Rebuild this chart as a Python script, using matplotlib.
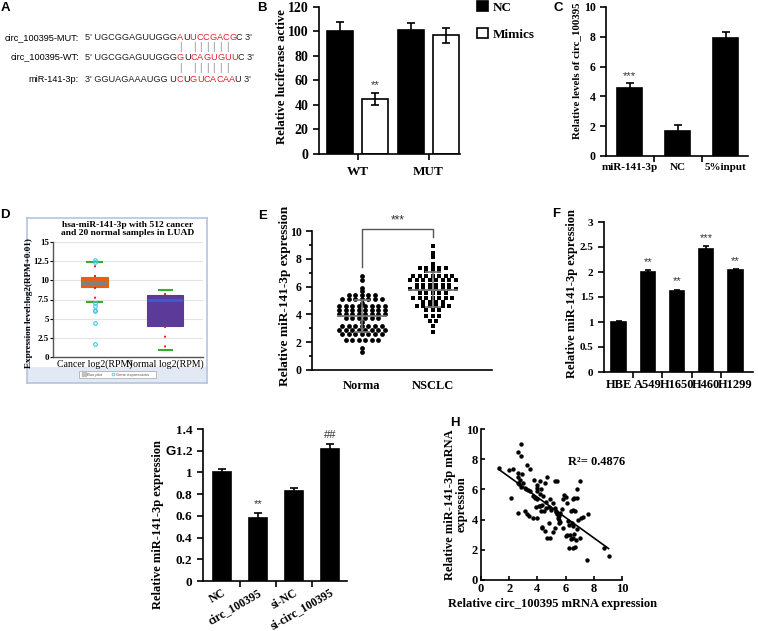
import numpy as np
import matplotlib
matplotlib.use("Agg")
import matplotlib.pyplot as plt
from matplotlib.ticker import FuncFormatter, MultipleLocator
from matplotlib.patches import Rectangle
from matplotlib.transforms import ScaledTranslation

W, H = 758, 631

plt.rcParams['font.family'] = ['Liberation Serif', 'DejaVu Serif']
plt.rcParams['font.weight'] = 'bold'
plt.rcParams['axes.labelweight'] = 'bold'
plt.rcParams['axes.linewidth'] = 1.2

# ---------------- data ----------------
# A: sequences (text, colour)
mut_label = "circ_100395-MUT:"
wt_label = "circ_100395-WT:"
mir_label = "miR-141-3p:"
mut_segs = [("5' UGCGGAGUUGGG", 'k'), ("A", 'r'), ("U", 'k'), ("UCCGACG", 'r'), ("C 3'", 'k')]
wt_segs = [("5' UGCGGAGUUGGG", 'k'), ("G", 'r'), ("U", 'k'), ("CAGUGUU", 'r'), ("C 3'", 'k')]
mir_segs = [("3' GGUAGAAAUGG U", 'k'), ("C", 'r'), ("U", 'k'), ("GUCACAA", 'r'), ("U 3'", 'k')]
pair_idx = [0, 2, 3, 4, 5, 6, 7]

# B: luciferase
luc_groups = ["WT", "MUT"]
luc_nc = [100, 101]
luc_nc_err = [8, 6]
luc_mim = [45, 97]
luc_mim_err = [5, 6]

# C: pull-down
pd_groups = ["miR-141-3p", "NC", "5%input"]
pd_vals = [4.55, 1.7, 7.95]
pd_err = [0.35, 0.4, 0.35]

# D: box plot stats
d_labels = ["Cancer log2(RPM)", "Normal log2(RPM)"]
cancer_stats = dict(med=9.7, q1=9.1, q3=10.4, whislo=7.15, whishi=12.35,
                    fliers=[12.6, 12.45, 7.0, 6.6, 6.1, 6.0, 4.5, 1.7])
normal_stats = dict(med=7.45, q1=4.05, q3=8.1, whislo=0.9, whishi=8.8, fliers=[])

# E: scatter
e_groups = ["Norma", "NSCLC"]
normal_expr = [6.75, 6.5, 5.9, 5.7,
               5.4, 5.4, 5.4, 5.4, 5.4,
               5.1, 5.1, 5.1, 5.1, 5.1, 5.1, 5.1,
               4.85,
               4.6, 4.6, 4.6, 4.6, 4.6, 4.6, 4.6, 4.6,
               4.35, 4.35, 4.35, 4.35, 4.35, 4.35, 4.35, 4.35,
               4.05, 4.05, 4.05, 4.05, 4.05, 4.05, 4.05, 4.05,
               3.75, 3.75, 3.75, 3.75, 3.75, 3.75,
               3.45,
               3.2, 3.2, 3.2, 3.2, 3.2, 3.2, 3.2,
               2.9, 2.9, 2.9, 2.9, 2.9, 2.9, 2.9, 2.9,
               2.6, 2.6, 2.6, 2.6, 2.6, 2.6, 2.6,
               2.15, 2.15, 2.15, 2.15, 2.15, 2.15,
               1.6, 1.28]
nsclc_expr = [8.95, 8.45, 8.15, 7.6,
              7.35, 7.35, 7.35, 7.35, 7.35,
              7.1, 7.1, 7.1,
              6.75, 6.75, 6.75, 6.75, 6.75, 6.75, 6.75,
              6.45, 6.45, 6.45, 6.45, 6.45, 6.45, 6.45, 6.45,
              6.15, 6.15, 6.15, 6.15, 6.15, 6.15,
              5.85, 5.85, 5.85, 5.85, 5.85, 5.85, 5.85, 5.85,
              5.55, 5.55, 5.55, 5.55, 5.55,
              5.2, 5.2, 5.2, 5.2, 5.2, 5.2, 5.2,
              4.9, 4.9, 4.9, 4.9,
              4.6, 4.6, 4.6, 4.6, 4.6, 4.6,
              4.3, 4.3, 4.3,
              3.9, 3.9, 3.9,
              3.55, 3.55,
              3.2, 2.7]

# F: cell lines
cell_lines = ["HBE", "A549", "H1650", "H460", "H1299"]
cell_vals = [1.0, 2.01, 1.63, 2.47, 2.04]
cell_err = [0.03, 0.03, 0.02, 0.05, 0.025]
cell_sig = ["", "**", "**", "***", "**"]

# G: transfection
g_groups = ["NC", "circ_100395", "si-NC", "si-circ_100395"]
g_vals = [1.0, 0.58, 0.83, 1.22]
g_err = [0.035, 0.05, 0.03, 0.045]
g_sig = ["", "**", "", "##"]

# H: correlation
circ_expr = [1.25, 2.0, 2.25, 2.85, 2.65, 2.85, 2.6, 2.9, 2.6, 2.8, 2.6, 3.0, 3.25, 3.45,
             2.85, 3.2, 3.35, 2.15, 2.6, 3.1, 3.25, 3.4, 3.7, 3.95, 3.75, 4.0, 4.0, 4.0,
             4.2, 4.25, 3.7, 3.85, 4.0, 4.2, 4.4, 4.55, 4.7, 4.35, 4.45, 4.15, 4.25, 4.6,
             4.8, 4.35, 4.55, 4.9, 5.1, 4.95, 5.25, 5.25, 5.4, 4.8, 4.9, 5.1, 4.7, 5.5,
             5.55, 5.5, 5.6, 5.75, 5.25, 5.85, 5.8, 6.05, 6.1, 6.15, 6.25, 6.1, 6.3, 6.25,
             6.55, 6.65, 6.55, 6.75, 6.5, 6.65, 6.6, 6.8, 6.8, 7.0, 6.9, 6.5, 6.8, 7.2,
             7.6, 7.0, 8.7, 7.55, 9.05, 5.35, 5.4, 5.45, 5.3, 5.6, 4.6, 3.9, 6.4, 6.45,
             6.0, 6.35, 6.6, 7.1, 6.5, 5.9, 2.7, 3.1, 3.5, 4.1, 4.3]
mir_expr = [7.4, 7.3, 7.35, 9.0, 8.45, 8.2, 7.1, 7.05, 6.8, 6.6, 6.45, 6.4, 7.6, 7.35,
            6.15, 6.0, 5.95, 5.45, 4.45, 4.6, 4.35, 4.25, 4.1, 4.1, 6.6, 6.3, 6.1, 5.9,
            6.55, 6.0, 5.55, 5.45, 5.35, 5.7, 5.55, 6.45, 6.8, 4.95, 4.55, 4.9, 4.55, 5.15,
            4.85, 3.45, 3.25, 5.35, 5.1, 4.65, 4.8, 6.55, 6.55, 3.75, 2.75, 3.15, 2.75, 4.25,
            4.0, 3.8, 4.45, 4.7, 3.45, 3.45, 5.35, 5.5, 5.1, 3.9, 3.65, 3.0, 3.0, 2.15,
            2.1, 2.2, 2.75, 2.65, 4.65, 4.55, 5.45, 5.45, 6.0, 6.55, 4.0, 3.55, 3.35, 4.2,
            4.4, 2.75, 2.15, 1.3, 1.6, 4.5, 4.35, 4.1, 4.6, 3.85, 4.8, 4.85, 4.55, 3.75,
            2.9, 2.7, 3.05, 4.1, 5.35, 5.6, 6.35, 6.1, 5.9, 4.9, 3.5]
r2_text = "R\u00b2= 0.4876"

# ---------------- helpers ----------------
fig = plt.figure(figsize=(W / 100, H / 100), dpi=100)


def px_axes(l, t, r, b):
    return fig.add_axes([l / W, 1 - b / H, (r - l) / W, (b - t) / H])


def prism(ax, fs):
    for s in ['top', 'right']:
        ax.spines[s].set_visible(False)
    ax.tick_params(direction='out', length=4, width=1.2, labelsize=fs)


gfmt = FuncFormatter(lambda v, p: f"{v:g}")


def panel_letter(x, y, s):
    fig.text(x / W, 1 - y / H, s, family='Liberation Sans', weight='bold',
             fontsize=9.5, ha='center', va='center')


def stars(ax, x, y, s, fs=8):
    ax.text(x, y, s, ha='center', va='bottom', fontsize=fs, color='#333333',
            family='Liberation Sans', weight='normal')


# ---------------- A ----------------
ax_a = px_axes(0, 0, 250, 110)
ax_a.set_xlim(0, 250)
ax_a.set_ylim(110, 0)
ax_a.axis('off')
colmap = {'k': '#222222', 'r': '#e8202a'}
seq_kw = dict(family='Liberation Sans', weight='normal', fontsize=6.6)


def draw_row(y, label, segs):
    ax_a.text(79, y, label, ha='right', va='center', **seq_kw)
    prev = ax_a.text(85, y, segs[0][0], ha='left', va='center', color=colmap[segs[0][1]], **seq_kw)
    chars = []
    for txt, c in segs[1:-1]:
        for ch in txt:
            prev = ax_a.annotate(ch, xy=(1, 0), xycoords=prev, ha='left', va='bottom',
                                 color=colmap[c], **seq_kw)
            chars.append(prev)
    ax_a.annotate(segs[-1][0], xy=(1, 0), xycoords=prev, ha='left', va='bottom',
                  color=colmap[segs[-1][1]], **seq_kw)
    return chars


draw_row(38, mut_label, mut_segs)
wt_chars = draw_row(57, wt_label, wt_segs)
draw_row(79, mir_label, mir_segs)
for i in pair_idx:
    for ym in (47.5, 68):
        ax_a.annotate('|', xy=(0.5, ym), xycoords=(wt_chars[i], 'data'), ha='center',
                      va='center', color='#888888', family='Liberation Sans',
                      weight='normal', fontsize=7)
panel_letter(5, 8, "A")

# ---------------- B ----------------
ax_b = px_axes(319, 7, 460, 154)
prism(ax_b, 10)
xb = np.arange(len(luc_groups))
off, bw = 0.245, 0.37
ekw = dict(ecolor='black', elinewidth=1.2, capsize=3, capthick=1.2)
b1 = ax_b.bar(xb - off, luc_nc, bw, yerr=luc_nc_err, color='black', edgecolor='black',
              lw=1.2, error_kw=ekw, label='NC')
b2 = ax_b.bar(xb + off, luc_mim, bw, yerr=luc_mim_err, color='white', edgecolor='black',
              lw=1.2, error_kw=ekw, label='Mimics')
stars(ax_b, xb[0] + off, luc_mim[0] + luc_mim_err[0] + 2, "**")
ax_b.set_xlim(-0.547, 1.445)
ax_b.set_ylim(0, 120)
ax_b.set_yticks(range(0, 121, 20))
ax_b.set_xticks(xb)
ax_b.set_xticklabels(luc_groups, fontsize=9.5)
ax_b.tick_params(axis='x', pad=5)
ax_b.set_ylabel("Relative luciferase active", fontsize=9.2, va='center')
ax_b.yaxis.set_label_coords(-0.26, 0.53)
ax_b.legend(handles=[b1, b2], loc='upper left', bbox_to_anchor=(477 / W, 1 - 1 / H),
            bbox_transform=fig.transFigure, frameon=False, fontsize=9.5,
            handlelength=0.8, handleheight=0.8, labelspacing=1.1, handletextpad=0.4,
            borderaxespad=0, borderpad=0)
panel_letter(262, 8, "B")

# ---------------- C ----------------
ax_c = px_axes(606, 7, 748, 156)
prism(ax_c, 8.5)
xc = np.arange(len(pd_groups))
ax_c.bar(xc, pd_vals, 0.52, yerr=pd_err, color='black', edgecolor='black', lw=1.2,
         error_kw=ekw)
stars(ax_c, xc[0], pd_vals[0] + pd_err[0] + 0.15, "***")
ax_c.set_xlim(-0.49, 2.468)
ax_c.set_ylim(0, 10)
ax_c.set_yticks(range(0, 11, 2))
ax_c.set_xticks(xc)
ax_c.set_xticklabels(pd_groups, fontsize=8)
ax_c.tick_params(axis='x', length=0, pad=5)
ax_c.set_xticks([0.5, 1.5], minor=True)
ax_c.tick_params(axis='x', which='minor', length=4, width=1.2, direction='out')
ax_c.set_ylabel("Relative levels of circ_100395", fontsize=7.8, va='center')
ax_c.yaxis.set_label_coords(-0.21, 0.57)
panel_letter(558, 8, "C")

# ---------------- D ----------------
ax_df = px_axes(27, 218, 207, 383)
ax_df.set_xlim(27, 207)
ax_df.set_ylim(383, 218)
ax_df.set_xticks([])
ax_df.set_yticks([])
for s in ax_df.spines.values():
    s.set_color('#b4c4e0')
    s.set_linewidth(1.2)
ax_df.add_patch(Rectangle((27, 367), 180, 16, fc='#e3e9f4', ec='none'))
ax_df.add_patch(Rectangle((79, 371), 77, 7, fc='white', ec='#b0b0b0', lw=0.6))
ax_df.plot([84], [374.5], marker='s', ms=2.5, color='#c0c0c0', ls='none')
ax_df.plot([113], [374.5], marker='o', ms=2, mfc='none', mec='#44c8e0', mew=0.6, ls='none')
ax_df.text(87, 374.6, "Box plot", fontsize=3, family='Liberation Sans', weight='normal',
           va='center', color='#555555')
ax_df.text(116, 374.6, "Gene expressions", fontsize=3, family='Liberation Sans',
           weight='normal', va='center', color='#555555')

ax_d = px_axes(53, 242, 203, 357)
ax_d.set_xlim(0.41, 2.538)
ax_d.set_ylim(0, 15)
ax_d.set_yticks(np.arange(0, 15.1, 2.5))
ax_d.yaxis.set_major_formatter(gfmt)
ax_d.grid(axis='y', color='#e4e4e4', lw=0.8)
ax_d.set_axisbelow(True)
for s in ['top', 'right']:
    ax_d.spines[s].set_visible(False)
for s in ['left', 'bottom']:
    ax_d.spines[s].set_color('#555555')
    ax_d.spines[s].set_linewidth(1.0)
ax_d.tick_params(axis='y', length=2, labelsize=6.4, pad=1)
ax_d.tick_params(axis='x', length=0, pad=2)
box_style = [
    (cancer_stats, 1, 0.383, '#e8600c', '#808080', 3, 0.21),
    (normal_stats, 2, 0.51, '#5b3a9a', '#3a5fc8', 2, 0.185),
]
for st, pos, wid, fc, mc, mlw, cw in box_style:
    ax_d.bxp([st], positions=[pos], widths=[wid], capwidths=[cw], patch_artist=True,
             showfliers=True, manage_ticks=False,
             boxprops=dict(facecolor=fc, edgecolor=fc, lw=0.8),
             medianprops=dict(color=mc, lw=mlw),
             whiskerprops=dict(color='#e02020', ls=(0, (1, 4)), lw=1.4),
             capprops=dict(color='#30b030', lw=1.5),
             flierprops=dict(marker='o', mfc='none', mec='#44c8e0', ms=2.6, mew=0.8))
ax_d.set_xticks([1, 2])
ax_d.set_xticklabels(d_labels, fontsize=7.1, weight='normal')
ax_d.set_ylabel("Expression level:log2(RPM+0.01)", fontsize=6.6, va='center')
ax_d.yaxis.set_label_coords(-0.16, 0.47)
ax_d.text(0.5, 1.045, "hsa-miR-141-3p with 512 cancer\nand 20 normal samples in LUAD",
          transform=ax_d.transAxes, ha='center', va='bottom', fontsize=6.8, linespacing=0.9)
panel_letter(5, 215, "D")

# ---------------- E ----------------
ax_e = px_axes(312, 231, 492, 370)
prism(ax_e, 8.5)


def swarm_offsets(vals, step):
    vals = np.asarray(vals)
    offs = np.zeros(len(vals))
    for v in np.unique(vals):
        idx = np.where(vals == v)[0]
        offs[idx] = (np.arange(len(idx)) - (len(idx) - 1) / 2) * step
    return offs


for i, (vals, mk, sz) in enumerate([(normal_expr, 'o', 12), (nsclc_expr, 's', 10)]):
    vals = np.asarray(vals)
    ax_e.scatter(i + swarm_offsets(vals, 0.092), vals, s=sz, marker=mk, color='black',
                 lw=0, zorder=3)
    m, sd = vals.mean(), vals.std()
    ax_e.plot([i - 0.34, i + 0.34], [m, m], color='#777777', lw=1.3, zorder=4)
    ax_e.errorbar([i], [m], yerr=[sd], color='#777777', lw=1.2, capsize=6, capthick=1.2,
                  zorder=4)
ax_e.plot([0, 0, 1, 1], [7.4, 10.12, 10.12, 9.6], color='#555555', lw=1.0, clip_on=False)
stars(ax_e, 0.5, 10.35, "***", fs=8.5)
ax_e.set_xlim(-0.705, 1.835)
ax_e.set_ylim(0, 10)
ax_e.set_yticks(range(0, 11, 2))
ax_e.yaxis.set_minor_locator(MultipleLocator(1))
ax_e.tick_params(axis='y', which='minor', length=2.5, width=1.2)
ax_e.set_xticks([0, 1])
ax_e.set_xticklabels(e_groups, fontsize=9)
ax_e.tick_params(axis='x', length=0, pad=7)
ax_e.set_ylabel("Relative miR-141-3p expression", fontsize=9.5, va='center')
ax_e.yaxis.set_label_coords(-0.15, 0.53)
panel_letter(263, 216, "E")

# ---------------- F ----------------
ax_f = px_axes(604, 222, 753, 372)
prism(ax_f, 8)
xf = np.arange(len(cell_lines))
ax_f.bar(xf, cell_vals, 0.48, yerr=cell_err, color='black', edgecolor='black', lw=1.2,
         error_kw=dict(ecolor='black', elinewidth=1.2, capsize=2.5, capthick=1.2))
for xi, v, e, s in zip(xf, cell_vals, cell_err, cell_sig):
    if s:
        stars(ax_f, xi, v + e + 0.06, s)
ax_f.set_xlim(-0.496, 4.598)
ax_f.set_ylim(0, 3)
ax_f.set_yticks(np.arange(0, 3.01, 0.5))
ax_f.yaxis.set_major_formatter(gfmt)
ax_f.set_xticks(xf)
ax_f.set_xticklabels(cell_lines, fontsize=9)
ax_f.tick_params(axis='x', length=0, pad=5)
ax_f.set_xticks(xf[:-1] + 0.5, minor=True)
ax_f.tick_params(axis='x', which='minor', length=4, width=1.2, direction='out')
ax_f.set_ylabel("Relative miR-141-3p expression", fontsize=9, va='center')
ax_f.yaxis.set_label_coords(-0.215, 0.52)
panel_letter(556, 214, "F")

# ---------------- G ----------------
ax_g = px_axes(203, 429, 347, 581)
prism(ax_g, 9.5)
xg = np.arange(len(g_groups))
ax_g.bar(xg, g_vals, 0.5, yerr=g_err, color='black', edgecolor='black', lw=1.2,
         error_kw=dict(ecolor='black', elinewidth=1.2, capsize=3, capthick=1.2))
for xi, v, e, s in zip(xg, g_vals, g_err, g_sig):
    if s:
        stars(ax_g, xi, v + e + 0.03, s)
ax_g.set_xlim(-0.528, 3.472)
ax_g.set_ylim(0, 1.4)
ax_g.set_yticks(np.arange(0, 1.41, 0.2))
ax_g.yaxis.set_major_formatter(gfmt)
ax_g.set_xticks(xg)
ax_g.set_xticklabels(g_groups, fontsize=8.4, rotation=30, ha='right', va='top',
                     rotation_mode='anchor')
shift = ScaledTranslation(10 / 100, 8 / 100, fig.dpi_scale_trans)
for lab in ax_g.get_xticklabels():
    lab.set_transform(lab.get_transform() + shift)
ax_g.tick_params(axis='x', length=0, pad=4)
ax_g.set_xticks(xg[:-1] + 0.5, minor=True)
ax_g.tick_params(axis='x', which='minor', length=4, width=1.2, direction='out')
ax_g.set_ylabel("Relative miR-141-3p expression", fontsize=9, va='center')
ax_g.yaxis.set_label_coords(-0.31, 0.37)
panel_letter(171, 452, "G")

# ---------------- H ----------------
ax_h = px_axes(481, 429, 622, 580)
for s in ['top', 'right']:
    ax_h.spines[s].set_visible(False)
ax_h.tick_params(direction='in', length=3, width=1.2, labelsize=9, pad=2)
cx, my = np.asarray(circ_expr), np.asarray(mir_expr)
ax_h.scatter(cx, my, s=10, color='black', lw=0, zorder=3)
k, b0 = np.polyfit(cx, my, 1)
xl = np.array([cx.min(), cx.max()])
ax_h.plot(xl, k * xl + b0, color='black', lw=1.2)
ax_h.text(6.2, 7.8, r2_text, fontsize=9, ha='left', va='center')
ax_h.set_xlim(0, 10)
ax_h.set_ylim(0, 10)
ax_h.set_xticks(range(0, 11, 2))
ax_h.set_yticks(range(0, 11, 2))
ax_h.set_xlabel("Relative circ_100395 mRNA expression", fontsize=9)
ax_h.xaxis.set_label_coords(0.51, -0.12)
ax_h.set_ylabel("Relative miR-141-3p mRNA\nexpression", fontsize=9, va='center',
                linespacing=0.95)
ax_h.yaxis.set_label_coords(-0.18, 0.5)
panel_letter(455, 423, "H")

fig.savefig("out.png", dpi=100, facecolor='white')
